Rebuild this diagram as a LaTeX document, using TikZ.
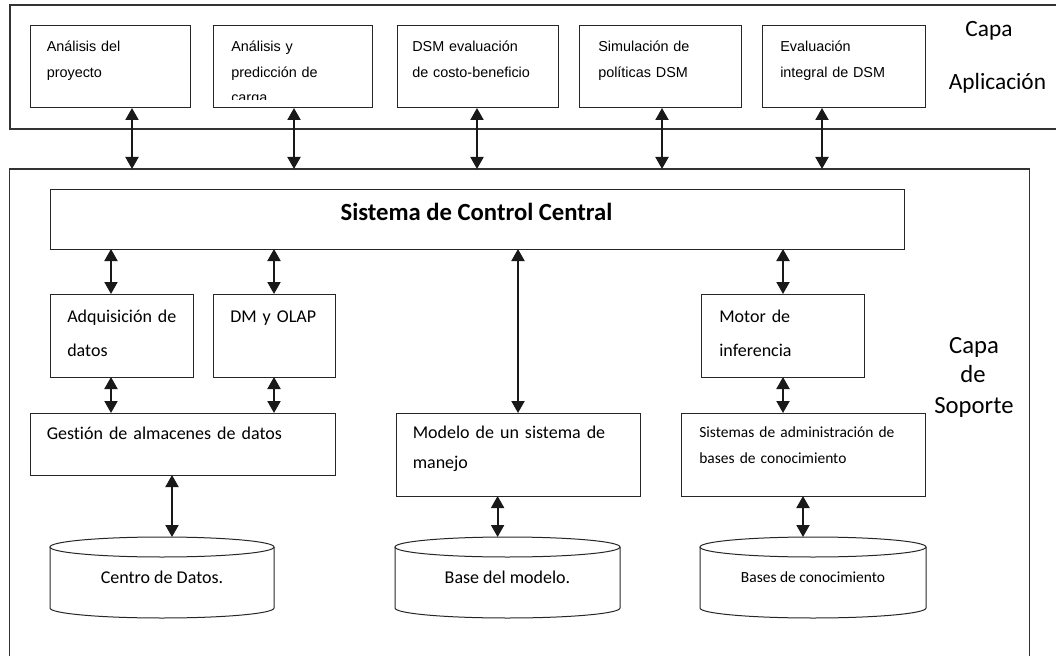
\documentclass[tikz,border=0pt]{standalone}
\usepackage{fontspec}
\setmainfont{Carlito}[Ligatures=NoCommon]
\newfontfamily\arialfont{Liberation Sans}
\usetikzlibrary{arrows.meta}
\tikzstyle{layer}=[draw=black!80, line width=0.9pt, anchor=north west, inner sep=0pt, outer sep=0pt]
\tikzstyle{unit}=[draw=black!85, line width=0.75pt, anchor=north west, inner sep=0pt, outer sep=0pt, minimum height=61.5pt]
\tikzstyle{apptext}=[anchor=base west, inner sep=0pt, text width=130pt, align=left, font=\arialfont\fontsize{10.8}{19.1}\selectfont]
\tikzstyle{suptext}=[anchor=base west, inner sep=0pt, text width=200pt, align=left, font=\fontsize{13.5}{25.5}\selectfont]
\tikzstyle{tag}=[anchor=base, inner sep=0pt, font=\fontsize{17.5}{21}\selectfont]
\tikzstyle{db}=[anchor=north west, inner sep=0pt, outer sep=0pt, minimum height=60.75pt, font=\fontsize{13.5}{16}\selectfont]
\tikzstyle{link}=[{Triangle[width=9.75pt,length=9pt]}-{Triangle[width=9.75pt,length=9pt]}, line width=1.5pt, black!90]

\begin{document}
\begin{tikzpicture}[x=0.75pt,y=-0.75pt]
\useasboundingbox (0,0) rectangle (1056,656);

% capas
\node[layer, minimum width=825pt, minimum height=93pt](aplicacion) at (10,5) {};
\node[layer, minimum width=765pt, minimum height=450pt](soporte) at (9.6,169) {};
\node[tag](capa1) at (989,37) {Capa};
\node[tag](aplic) at (997.5,90) {Aplicación};
\node[tag, font=\fontsize{18.5}{22}\selectfont](capa2) at (974,353) {Capa};
\node[tag, font=\fontsize{18.5}{22}\selectfont](de) at (973,382) {de};
\node[tag, font=\fontsize{18.5}{22}\selectfont](soport) at (974,413) {Soporte};

% capa de aplicacion
\node[unit, minimum width=120pt](app1) at (30,26) {};
\node[unit, minimum width=119.25pt](app2) at (213,26) {};
\node[unit, minimum width=120.75pt](app3) at (397,26) {};
\node[unit, minimum width=121.5pt](app4) at (579,26) {};
\node[unit, minimum width=122.25pt](app5) at (762,26) {};
\node[apptext](app1txt) at (46.5,52) {Análisis del\\proyecto};
\begin{scope}
\clip (200,20) rectangle (380,100);
\node[apptext](app2txt) at (231,52) {Análisis y\\predicción de\\carga};
\end{scope}
\node[apptext](app3txt) at (412,52) {DSM evaluación\\de costo-beneficio};
\node[apptext](app4txt) at (598,52) {Simulación de\\políticas DSM};
\node[apptext](app5txt) at (780,52) {Evaluación\\integral de DSM};

\foreach \n/\x in {app1/132, app2/294, app3/477, app4/662, app5/822}
  \draw[link] (\n.south -| \x,0) -- (\x,0 |- soporte.north);

% capa de soporte
\node[unit, minimum width=640.5pt, minimum height=45pt](central) at (50,189) {};
\node[anchor=base, inner sep=0pt, font=\bfseries\fontsize{18.5}{22}\selectfont](centraltxt) at (476.5,220) {Sistema de Control Central};

\node[unit, minimum width=107.25pt, minimum height=62.25pt](adq) at (50,294) {};
\node[unit, minimum width=91.5pt, minimum height=62.25pt](dm) at (213,294) {};
\node[unit, minimum width=122.25pt, minimum height=62.25pt](motor) at (701,294) {};
\node[suptext](adqtxt) at (67,322) {Adquisición de\\datos};
\node[suptext](dmtxt) at (230,322) {DM y OLAP};
\node[suptext](motortxt) at (719,322) {Motor de\\inferencia};

\node[unit, minimum width=228.75pt, minimum height=46.5pt](gestion) at (30,413) {};
\node[unit, minimum width=183pt, minimum height=62.25pt](modelo) at (396,413) {};
\node[unit, minimum width=183pt, minimum height=62.25pt](sistemas) at (681,413) {};
\node[suptext](gestiontxt) at (46.5,439) {Gestión de almacenes de datos};
\node[suptext, font=\fontsize{13.5}{22.5}\selectfont](modelotxt) at (412.5,438) {Modelo de un sistema de\\manejo};
\node[suptext, font=\fontsize{11.6}{19.5}\selectfont](sistemastxt) at (699,437) {Sistemas de administración de\\bases de conocimiento};

\node[db, minimum width=168pt](centro) at (50,537) {Centro de Datos.};
\node[db, minimum width=168.75pt](basemod) at (395,537) {Base del modelo.};
\node[db, minimum width=169.5pt, font=\fontsize{11.6}{14}\selectfont](basecon) at (700,537) {Bases de conocimiento};
\foreach \c/\r in {centro/84pt, basemod/84.375pt, basecon/84.75pt}{
  \draw[black!85, line width=0.75pt] ([yshift=-7.5pt]\c.north west) -- ([yshift=7.5pt]\c.south west)
    arc[start angle=180, end angle=360, x radius=\r, y radius=7.5pt] -- ([yshift=-7.5pt]\c.north east);
  \draw[black!85, line width=0.75pt] ([yshift=-7.5pt]\c.north) ellipse[x radius=\r, y radius=7.5pt];
}

\draw[link] (central.south -| 111,0) -- (111,0 |- adq.north);
\draw[link] (central.south -| 274,0) -- (274,0 |- dm.north);
\draw[link] (central.south -| 518,0) -- (518,0 |- modelo.north);
\draw[link] (central.south -| 783,0) -- (783,0 |- motor.north);
\draw[link] (adq.south -| 111,0) -- (111,0 |- gestion.north);
\draw[link] (dm.south -| 274,0) -- (274,0 |- gestion.north);
\draw[link] (motor.south -| 783,0) -- (783,0 |- sistemas.north);
\draw[link] (gestion.south -| 172,0) -- (172,0 |- centro.north);
\draw[link] (modelo.south -| 497.6,0) -- (497.6,0 |- basemod.north);
\draw[link] (sistemas.south -| 803,0) -- (803,0 |- basecon.north);
\end{tikzpicture}
\end{document}
